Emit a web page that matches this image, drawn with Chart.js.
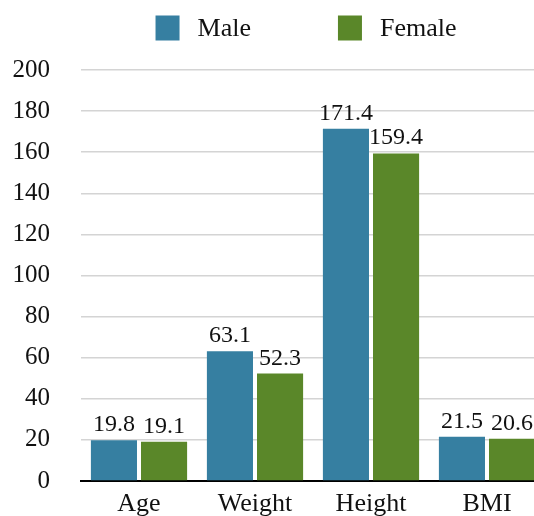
<!DOCTYPE html>
<html>
<head>
<meta charset="utf-8">
<script src="https://cdn.jsdelivr.net/npm/chart.js@4/dist/chart.umd.min.js"></script>
<style>
  html, body { margin: 0; padding: 0; background: #fff; overflow: hidden; }
  /* 원본 차트는 오른쪽과 아래가 잘려 있어 캔버스를 조금 크게 두고 잘라냄 */
  #wrap { width: 534px; height: 516px; overflow: hidden; }
</style>
</head>
<body>
<div id="wrap"><canvas id="c" width="545" height="527"></canvas></div>
<script>
// 데이터
const categories = ['Age', 'Weight', 'Height', 'BMI'];
const maleValues = [19.8, 63.1, 171.4, 21.5];
const femaleValues = [19.1, 52.3, 159.4, 20.6];
const seriesNames = ['Male', 'Female'];
const yTicks = [0, 20, 40, 60, 80, 100, 120, 140, 160, 180, 200];

const FONT = '"Liberation Serif", "Times New Roman", serif';
const colors = ['#367fa1', '#5a8729'];

// 막대 위 값 표시
const valueLabels = {
    id: 'valueLabels',
    afterDatasetsDraw(chart) {
        const ctx = chart.ctx;
        ctx.save();
        ctx.font = '24px ' + FONT;
        ctx.fillStyle = '#111';
        ctx.textAlign = 'center';
        ctx.textBaseline = 'alphabetic';
        chart.data.datasets.forEach((ds, i) => {
            chart.getDatasetMeta(i).data.forEach((bar, j) => {
                ctx.fillText(ds.data[j].toFixed(1), bar.x, bar.y - 9);
            });
        });
        ctx.restore();
    }
};

// 범례 (상자와 글자 사이 간격 때문에 직접 그림)
const topLegend = {
    id: 'topLegend',
    afterDraw(chart) {
        const ctx = chart.ctx;
        ctx.save();
        ctx.font = '26px ' + FONT;
        ctx.textBaseline = 'middle';
        const box = 24, gap = 18, spacing = 87;
        const items = chart.data.datasets.map(ds => ({
            text: ds.label, color: ds.backgroundColor,
            w: box + gap + ctx.measureText(ds.label).width
        }));
        const total = items.reduce((s, it) => s + it.w, 0) + spacing * (items.length - 1);
        let x = 306 - total / 2;
        const cy = 28;
        items.forEach(it => {
            ctx.fillStyle = it.color;
            ctx.fillRect(x, cy - 12.5, box, 25);
            ctx.fillStyle = '#111';
            ctx.fillText(it.text, x + box + gap, cy + 1);
            x += it.w + spacing;
        });
        ctx.restore();
    }
};

new Chart(document.getElementById('c'), {
    type: 'bar',
    data: {
        labels: categories,
        datasets: [
            { label: seriesNames[0], data: maleValues, backgroundColor: colors[0] },
            { label: seriesNames[1], data: femaleValues, backgroundColor: colors[1] }
        ]
    },
    options: {
        responsive: false,
        animation: false,
        devicePixelRatio: 1,
        categoryPercentage: 0.864,
        barPercentage: 0.92,
        layout: { padding: { top: 70, right: 0, left: 0, bottom: 0 } },
        plugins: {
            legend: { display: false },
            tooltip: { enabled: false }
        },
        scales: {
            x: {
                grid: { display: false, drawTicks: false },
                border: { display: true, color: '#000', width: 2 },
                ticks: { color: '#111', font: { family: FONT, size: 26 }, padding: 8 },
                afterFit(scale) { scale.height = 35; }
            },
            y: {
                min: 0,
                max: 200,
                afterBuildTicks(scale) { scale.ticks = yTicks.map(v => ({ value: v })); },
                grid: { color: '#d4d4d4', lineWidth: 1.5, drawTicks: false },
                border: { display: false },
                ticks: { color: '#111', font: { family: FONT, size: 25 }, padding: 31 },
                afterFit(scale) { scale.width = 81; }
            }
        }
    },
    plugins: [valueLabels, topLegend]
});
</script>
</body>
</html>
